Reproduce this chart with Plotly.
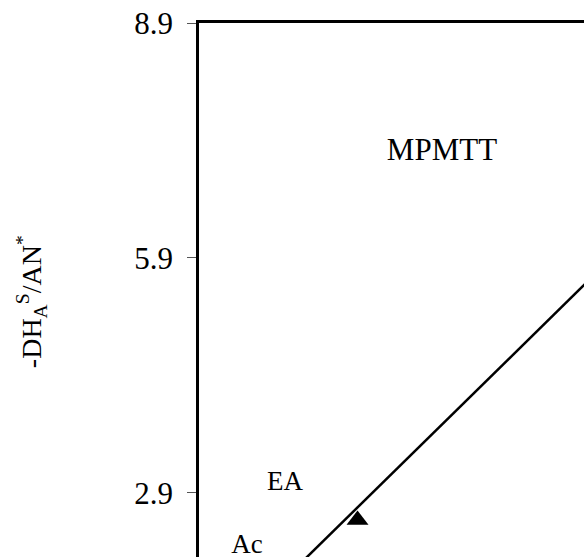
import plotly.graph_objects as go

# Measured solvent point and the correlation line
point_x = [2.025]
point_y = [2.551]
fit_x = [1.0, 5.5]
fit_y = [1.705, 6.124]

# Text labels placed on the plane
label_text = ["EA", "Ac", "MPMTT"]
label_x = [1.099, 0.613, 3.104]
label_y = [3.024, 2.210, 7.252]

# Y axis ticks
y_ticks = [2.9, 5.9, 8.9]
y_tick_text = ["2.9", "5.9", "8.9"]
y_range = [2.078, 8.9]
x_range = [0.0, 4.918]

FONT = "Liberation Serif"

fig = go.Figure()
fig.add_trace(go.Scatter(
    x=fit_x, y=fit_y, mode="lines",
    line=dict(color="black", width=2.5),
    hoverinfo="skip", showlegend=False,
))
fig.add_trace(go.Scatter(
    x=point_x, y=point_y, mode="markers",
    marker=dict(symbol="triangle-up", size=19, color="black"),
    showlegend=False,
))
fig.add_trace(go.Scatter(
    x=label_x, y=label_y, mode="text", text=label_text,
    textposition="middle center",
    textfont=dict(family=FONT, size=[27, 27, 31], color="black"),
    showlegend=False,
))

fig.add_annotation(
    text="-DH<sub>A</sub><sup>S</sup>/AN<sup>*</sup>",
    xref="paper", yref="paper", x=-0.436, y=0.4775,
    xanchor="center", yanchor="middle", textangle=-90,
    showarrow=False, font=dict(family=FONT, size=28, color="black"),
)

fig.update_layout(
    width=584, height=557,
    margin=dict(l=199, r=0, t=23, b=0),
    paper_bgcolor="white", plot_bgcolor="white",
    xaxis=dict(
        range=x_range, side="top", showline=True, linecolor="black",
        linewidth=2.5, showgrid=False, zeroline=False,
        showticklabels=False, ticks="",
    ),
    yaxis=dict(
        range=y_range, showline=True, linecolor="black", linewidth=2.5,
        showgrid=False, zeroline=False,
        tickvals=y_ticks, ticktext=y_tick_text,
        ticks="outside", ticklen=9, tickwidth=1, tickcolor="#555555",
        ticklabelstandoff=8,
        tickfont=dict(family=FONT, size=31, color="black"),
    ),
)

fig.write_html("out.html")
